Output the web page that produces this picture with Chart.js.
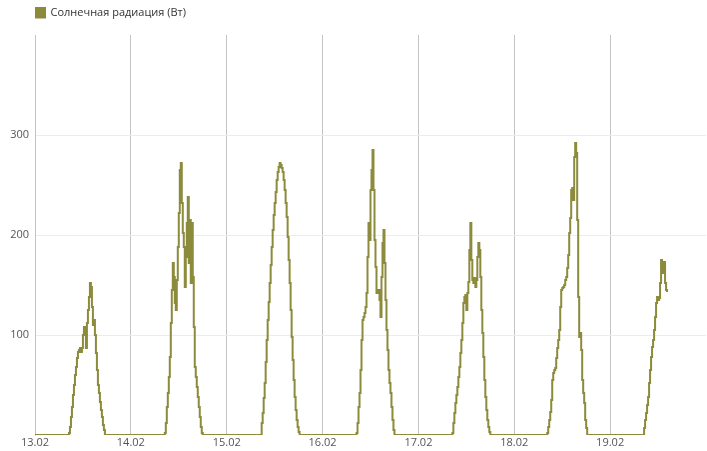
<!DOCTYPE html>
<html>
<head>
<meta charset="utf-8">
<script src="https://cdn.jsdelivr.net/npm/chart.js@4"></script>
<style>
    html, body { margin: 0; padding: 0; background: #fff; }
    #wrap { width: 707px; height: 451px; }
</style>
</head>
<body>
<div id="wrap"><canvas id="radiation"></canvas></div>
<script>
// 15-minute readings, each day starts at the given hour
const dayLabels = ['13.02', '14.02', '15.02', '16.02', '17.02', '18.02', '19.02', ''];
const dayStarts = [8.5, 8.5, 8.5, 8.5, 8.5, 8.25, 8.5];
const day13 = [2, 8, 18, 28, 40, 50, 60, 68, 77, 83, 85, 87, 83, 87, 100, 108, 103, 87, 112, 125, 138, 152, 148, 128, 110, 115, 100, 82, 65, 50, 42, 33, 25, 18, 10, 5];
const day14 = [2, 12, 28, 42, 58, 78, 112, 145, 172, 158, 132, 125, 155, 188, 222, 265, 272, 232, 202, 188, 148, 178, 212, 238, 172, 215, 152, 212, 158, 108, 68, 58, 48, 38, 28, 18, 8, 2];
const day15 = [0, 12, 22, 37, 52, 73, 95, 115, 133, 152, 170, 188, 205, 220, 232, 243, 255, 263, 268, 272, 270, 267, 263, 255, 245, 232, 218, 198, 175, 152, 125, 98, 75, 55, 38, 25, 15, 8, 3];
const day16 = [2, 12, 28, 42, 65, 95, 115, 118, 122, 128, 142, 178, 212, 195, 245, 265, 285, 245, 195, 168, 142, 142, 145, 135, 118, 158, 192, 205, 172, 135, 105, 85, 65, 52, 42, 28, 15, 5];
const day17 = [2, 12, 22, 32, 40, 48, 58, 68, 82, 95, 112, 132, 138, 140, 125, 142, 153, 185, 212, 175, 155, 152, 157, 148, 155, 178, 192, 185, 158, 125, 102, 78, 55, 38, 25, 15, 8, 3];
const day18 = [2, 8, 15, 23, 35, 55, 62, 65, 67, 77, 87, 95, 105, 128, 145, 147, 148, 150, 155, 158, 167, 180, 202, 217, 245, 247, 235, 278, 292, 282, 215, 138, 98, 102, 85, 55, 42, 32, 15, 7];
const day19 = [7, 15, 22, 30, 38, 52, 65, 78, 88, 95, 105, 118, 132, 138, 135, 137, 152, 175, 162, 172, 173, 152, 145, 143];

const days = [day13, day14, day15, day16, day17, day18, day19];
const lineColor = '#8c8a3b';

// full series in hours since 13.02 00:00, zero at night
const points = [];
days.forEach((values, d) => {
    const start = d * 24 + dayStarts[d];
    let t = d * 24;
    while (t < start - 0.001) {
        points.push({ x: t, y: 0 });
        t += 0.25;
    }
    values.forEach((v, i) => points.push({ x: start + i * 0.25, y: v }));
    if (d < days.length - 1) {
        points.push({ x: start + values.length * 0.25, y: 0 });
    }
});

// a bit more room under the legend
const legendGap = {
    id: 'legendGap',
    beforeInit(chart) {
        const fit = chart.legend.fit;
        chart.legend.fit = function () {
            fit.call(this);
            this.height += 7;
        };
    }
};

Chart.defaults.font.family = "'Open Sans', sans-serif";
Chart.defaults.font.size = 11;
Chart.defaults.color = '#555';

const ctx = document.getElementById('radiation').getContext('2d');

new Chart(ctx, {
    type: 'line',
    data: {
        datasets: [{
            label: 'Солнечная радиация (Вт)',
            data: points,
            stepped: true,
            borderColor: lineColor,
            backgroundColor: lineColor,
            borderWidth: 2,
            pointRadius: 0,
            fill: false
        }]
    },
    plugins: [legendGap],
    options: {
        responsive: true,
        maintainAspectRatio: false,
        animation: false,
        layout: {
            padding: { top: 7, left: 0, right: 0, bottom: 0 }
        },
        plugins: {
            legend: {
                align: 'start',
                fullSize: false,
                labels: {
                    boxWidth: 10,
                    boxHeight: 10,
                    padding: 0,
                    color: '#333'
                }
            },
            tooltip: { enabled: false }
        },
        scales: {
            x: {
                type: 'linear',
                min: 0,
                max: 168,
                afterFit: (scale) => { scale.height = 16; },
                ticks: {
                    stepSize: 24,
                    padding: 1,
                    maxRotation: 0,
                    callback: (value) => dayLabels[value / 24]
                },
                grid: {
                    color: (c) => c.tick.value === 168 ? 'rgba(0,0,0,0)' : '#c4c4c4',
                    drawTicks: false
                },
                border: { display: false }
            },
            y: {
                min: 0,
                max: 400,
                afterFit: (scale) => { scale.width = 35; },
                ticks: {
                    stepSize: 100,
                    padding: 6,
                    callback: (value) => (value === 0 || value === 400) ? '' : value
                },
                grid: {
                    drawTicks: false,
                    color: (c) => (c.tick.value === 0 || c.tick.value === 400) ? 'rgba(0,0,0,0)' : '#ececec'
                },
                border: { color: '#c4c4c4' }
            }
        }
    }
});
</script>
</body>
</html>
